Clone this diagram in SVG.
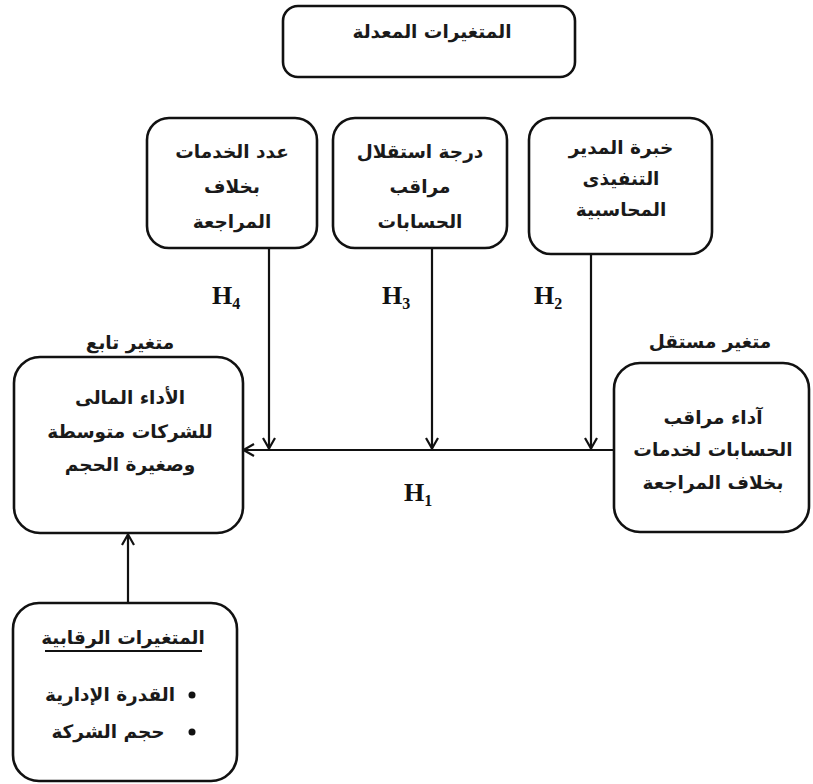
<svg xmlns="http://www.w3.org/2000/svg" width="813" height="784" viewBox="0 0 813 784">
<style>
  .box { fill: #ffffff; stroke: #111111; stroke-width: 2.6; }
  .ar { font-family: "DejaVu Sans", sans-serif; font-weight: bold; font-size: 18.5px; fill: #1a1a1a; text-anchor: middle; direction: rtl; }
  .hl { font-family: "Liberation Serif", serif; font-weight: bold; font-size: 26px; fill: #111111; }
  .sub { font-size: 16px; }
  .conn { stroke: #111111; stroke-width: 2.2; fill: none; }
</style>
<defs>
  <marker id="arr" viewBox="0 0 12 14" refX="12" refY="7" markerWidth="12" markerHeight="14" markerUnits="userSpaceOnUse" orient="auto">
    <path d="M1,1 L11.5,7 L1,13" fill="none" stroke="#111111" stroke-width="2.2"/>
  </marker>
</defs>
<rect width="813" height="784" fill="#ffffff"/>

<g id="moderators-title">
  <rect class="box" x="283" y="6" width="292" height="71" rx="15"/>
  <text class="ar" x="432" y="38">المتغيرات المعدلة</text>
</g>

<g id="mod-h4">
  <rect class="box" x="147" y="118" width="170" height="130" rx="22"/>
  <text class="ar" x="232" y="158">عدد الخدمات</text>
  <text class="ar" x="232" y="193">بخلاف</text>
  <text class="ar" x="232" y="228">المراجعة</text>
</g>

<g id="mod-h3">
  <rect class="box" x="333" y="118" width="174" height="130" rx="22"/>
  <text class="ar" x="420" y="158">درجة استقلال</text>
  <text class="ar" x="420" y="193">مراقب</text>
  <text class="ar" x="420" y="228">الحسابات</text>
</g>

<g id="mod-h2">
  <rect class="box" x="529" y="118" width="183" height="136" rx="22"/>
  <text class="ar" x="621" y="154">خبرة المدير</text>
  <text class="ar" x="621" y="185">التنفيذى</text>
  <text class="ar" x="621" y="216">المحاسبية</text>
</g>

<g id="dependent">
  <text class="ar" x="130" y="349">متغير تابع</text>
  <rect class="box" x="14" y="357" width="229" height="176" rx="26"/>
  <text class="ar" x="130" y="404">الأداء المالى</text>
  <text class="ar" x="130" y="438">للشركات متوسطة</text>
  <text class="ar" x="130" y="471">وصغيرة الحجم</text>
</g>

<g id="independent">
  <text class="ar" x="710" y="348">متغير مستقل</text>
  <rect class="box" x="614" y="363" width="195" height="169" rx="26"/>
  <text class="ar" x="713" y="424">آداء مراقب</text>
  <text class="ar" x="713" y="456">الحسابات لخدمات</text>
  <text class="ar" x="713" y="489">بخلاف المراجعة</text>
</g>

<g id="controls">
  <rect class="box" x="13" y="603" width="224" height="178" rx="26"/>
  <text class="ar" x="123" y="644">المتغيرات الرقابية</text>
  <line x1="45" y1="651" x2="202" y2="651" stroke="#111111" stroke-width="1.8"/>
  <circle cx="192" cy="695" r="3.5" fill="#111111"/>
  <text class="ar" x="110" y="701">القدرة الإدارية</text>
  <circle cx="192" cy="732" r="3.5" fill="#111111"/>
  <text class="ar" x="108" y="738">حجم الشركة</text>
</g>

<g id="connectors">
  <line class="conn" x1="614" y1="450" x2="243" y2="450" marker-end="url(#arr)"/>
  <line class="conn" x1="269" y1="248" x2="269" y2="449" marker-end="url(#arr)"/>
  <line class="conn" x1="432" y1="248" x2="432" y2="449" marker-end="url(#arr)"/>
  <line class="conn" x1="591" y1="254" x2="591" y2="449" marker-end="url(#arr)"/>
  <line class="conn" x1="128" y1="603" x2="128" y2="534" marker-end="url(#arr)"/>
</g>

<g id="labels">
  <text class="hl" x="212" y="304">H<tspan class="sub" dy="5">4</tspan></text>
  <text class="hl" x="382" y="304">H<tspan class="sub" dy="5">3</tspan></text>
  <text class="hl" x="534" y="304">H<tspan class="sub" dy="5">2</tspan></text>
  <text class="hl" x="404" y="501">H<tspan class="sub" dy="5">1</tspan></text>
</g>
</svg>
